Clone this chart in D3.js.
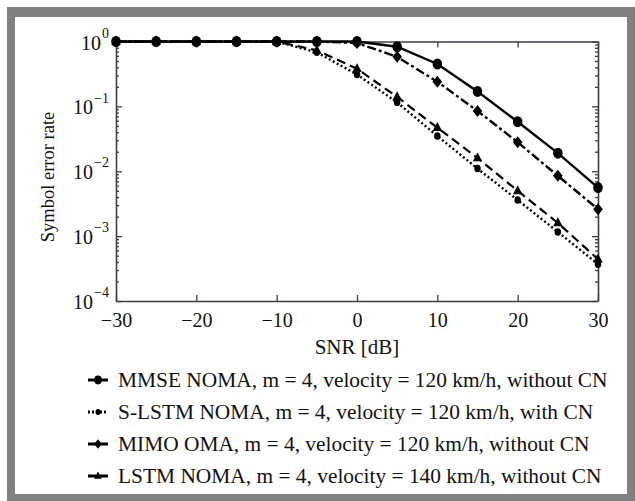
<!DOCTYPE html>
<html>
<head>
<meta charset="utf-8">
<script src="https://cdn.jsdelivr.net/npm/d3@7"></script>
<style>
  html, body { margin: 0; padding: 0; background: #fff; }
  svg { display: block; }
  text { font-family: "Liberation Serif", "Times New Roman", serif; fill: #111; }
</style>
</head>
<body>
<svg id="chart" width="635" height="501"></svg>
<script>
// SNR sweep (dB)
const snr = [-30, -25, -20, -15, -10, -5, 0, 5, 10, 15, 20, 25, 30];

// Symbol error rate per scheme
const mmseNoma  = [1, 1, 1, 1, 1, 1, 1, 0.83, 0.45, 0.17, 0.058, 0.019, 0.0056];
const slstmNoma = [1, 1, 1, 1, 1, 0.68, 0.31, 0.115, 0.035, 0.011, 0.0036, 0.00116, 0.00037];
const mimoOma   = [1, 1, 1, 1, 1, 1, 0.95, 0.58, 0.24, 0.085, 0.028, 0.0085, 0.0026];
const lstmNoma  = [1, 1, 1, 1, 1, 0.73, 0.38, 0.14, 0.047, 0.016, 0.005, 0.0016, 0.00044];

const legendLabels = [
  "MMSE NOMA, m = 4, velocity = 120 km/h, without CN",
  "S-LSTM NOMA, m = 4, velocity = 120 km/h, with CN",
  "MIMO OMA, m = 4, velocity = 120 km/h, without CN",
  "LSTM NOMA, m = 4, velocity = 140 km/h, without CN"
];

const xTicks = [-30, -20, -10, 0, 10, 20, 30];
const yTicks = [1e-4, 1e-3, 1e-2, 1e-1, 1];

const series = [
  { values: mmseNoma,  dash: null,      width: 2.4, marker: "circle",   r: 5.0 },
  { values: slstmNoma, dash: "2,2.5",   width: 2.4, marker: "circle",   r: 3.4 },
  { values: mimoOma,   dash: "9,3,3,3", width: 2.4, marker: "diamond",  r: 6.0 },
  { values: lstmNoma,  dash: "9,5",     width: 2.2, marker: "triangle", r: 5.6 }
];

const svg = d3.select("#chart");
const W = 635, H = 501;

// Outer frame
svg.append("rect").attr("x", 7).attr("y", 7).attr("width", W - 7).attr("height", H - 7).attr("fill", "#808080");
svg.append("rect").attr("x", 15).attr("y", 17).attr("width", 612).attr("height", 477).attr("fill", "#fff");

const plot = { left: 116, right: 598, top: 41.5, bottom: 301 };
const x = d3.scaleLinear().domain([-30, 30]).range([plot.left, plot.right]);
const y = d3.scaleLog().domain([1e-4, 1]).range([plot.bottom, plot.top]);

const axisColor = "#3d3d4a";

// Minor log ticks
const minor = [];
for (let e = -4; e < 0; e++) for (let k = 2; k <= 9; k++) minor.push(k * Math.pow(10, e));

function styleAxis(g) {
  g.selectAll("path, line").attr("stroke", axisColor).attr("stroke-width", 1.3);
}

// Bottom axis with labels
const gx = svg.append("g").attr("transform", `translate(0,${plot.bottom})`)
  .call(d3.axisBottom(x).tickValues(xTicks).tickSizeInner(-6).tickSizeOuter(0).tickPadding(12));
gx.call(styleAxis);
gx.selectAll("text").attr("font-size", 20).attr("dy", "0.72em").attr("fill", "#111");
gx.select(".domain").attr("stroke-width", 1.6);

// Top axis (ticks only)
const gxt = svg.append("g").attr("transform", `translate(0,${plot.top})`)
  .call(d3.axisTop(x).tickValues(xTicks).tickSizeInner(-6).tickSizeOuter(0).tickFormat(""));
gxt.call(styleAxis);
gxt.select(".domain").attr("stroke-width", 1.6);

// Left axis with labels
const gy = svg.append("g").attr("transform", `translate(${plot.left},0)`)
  .call(d3.axisLeft(y).tickValues(yTicks).tickSizeInner(-6).tickSizeOuter(0).tickFormat(""));
gy.call(styleAxis);
gy.select(".domain").attr("stroke-width", 1.6);
gy.selectAll(".tick").each(function(d) {
  const t = d3.select(this).append("text")
    .attr("x", -7).attr("y", 0).attr("dy", "0.38em")
    .attr("text-anchor", "end").attr("font-size", 20).attr("fill", "#111");
  t.append("tspan").text("10");
  t.append("tspan").attr("dy", "-0.85em").attr("dx", "1").attr("font-size", 14)
    .text(d3.format("d")(Math.log10(d)).replace("-", "\u2212"));
});
svg.append("g").attr("transform", `translate(${plot.left},0)`)
  .call(d3.axisLeft(y).tickValues(minor).tickSizeInner(-3).tickSizeOuter(0).tickFormat(""))
  .call(styleAxis).call(g => g.select(".domain").remove());

// Right axis (ticks only)
const gyr = svg.append("g").attr("transform", `translate(${plot.right},0)`)
  .call(d3.axisRight(y).tickValues(yTicks).tickSizeInner(-6).tickSizeOuter(0).tickFormat(""));
gyr.call(styleAxis);
gyr.select(".domain").attr("stroke-width", 1.6);
svg.append("g").attr("transform", `translate(${plot.right},0)`)
  .call(d3.axisRight(y).tickValues(minor).tickSizeInner(-3).tickSizeOuter(0).tickFormat(""))
  .call(styleAxis).call(g => g.select(".domain").remove());

// Axis titles
svg.append("text").attr("x", (plot.left + plot.right) / 2).attr("y", 347).attr("dy", "0.35em")
  .attr("text-anchor", "middle").attr("font-size", 21).text("SNR [dB]");
svg.append("text").attr("transform", `translate(48,177) rotate(-90)`)
  .attr("dy", "0.35em").attr("text-anchor", "middle").attr("font-size", 18.5).text("Symbol error rate");

// Marker drawing
function drawMarker(g, type, cx, cy, r) {
  if (type === "circle") {
    g.append("ellipse").attr("cx", cx).attr("cy", cy).attr("rx", r * 0.95).attr("ry", r * 1.1).attr("fill", "#000");
  } else if (type === "diamond") {
    g.append("path").attr("d", `M${cx},${cy - r}L${cx + r * 0.8},${cy}L${cx},${cy + r}L${cx - r * 0.8},${cy}Z`).attr("fill", "#000");
  } else {
    g.append("path").attr("d", `M${cx},${cy - r}L${cx + r * 0.85},${cy + r * 0.6}L${cx - r * 0.85},${cy + r * 0.6}Z`).attr("fill", "#000");
  }
}

const line = d3.line().x((d, i) => x(snr[i])).y(d => y(d));
const marks = svg.append("g");
// draw in back-to-front order so the solid curves sit on top
[1, 3, 2, 0].forEach(si => {
  const s = series[si];
  const p = marks.append("path").datum(s.values).attr("d", line)
    .attr("fill", "none").attr("stroke", "#000").attr("stroke-width", s.width);
  if (s.dash) p.attr("stroke-dasharray", s.dash);
  s.values.forEach((v, i) => drawMarker(marks, s.marker, x(snr[i]), y(v), s.r));
});

// Legend
const legendY = [380, 412, 444, 476];
const legendDash = [null, "2,2", null, "9,3"];
legendLabels.forEach((lab, i) => {
  const s = series[i];
  const g = svg.append("g");
  const l = g.append("line").attr("x1", 88).attr("x2", 108).attr("y1", legendY[i]).attr("y2", legendY[i])
    .attr("stroke", "#000").attr("stroke-width", s.width + 0.6);
  if (legendDash[i]) l.attr("stroke-dasharray", legendDash[i]);
  drawMarker(g, s.marker, 98, legendY[i], s.r * 0.8);
  g.append("text").attr("x", 118).attr("y", legendY[i]).attr("dy", "0.35em")
    .attr("font-size", 21.4).text(lab);
});
</script>
</body>
</html>
